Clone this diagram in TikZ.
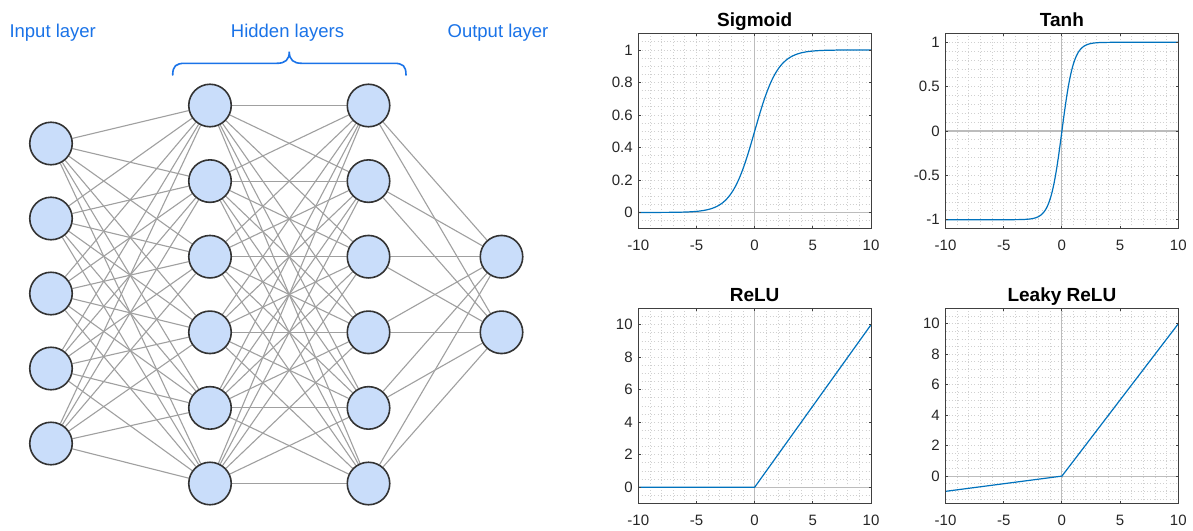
\documentclass[tikz,border=0pt]{standalone}
\usepackage{fontspec}
\setmainfont{Liberation Sans}
\usetikzlibrary{backgrounds}

\definecolor{labelblue}{RGB}{26,115,232}
\definecolor{nodefill}{RGB}{201,221,250}
\definecolor{nodeborder}{RGB}{51,51,51}
\definecolor{edgegray}{RGB}{160,160,160}
\definecolor{ticktext}{RGB}{38,38,38}
\definecolor{framegray}{RGB}{64,64,64}
\definecolor{gridgray}{RGB}{208,208,208}
\definecolor{zerogray}{RGB}{188,188,188}
\definecolor{curveblue}{RGB}{0,114,189}

\begin{document}
\begin{tikzpicture}[x=1pt,y=-1pt,
  neuron/.style={circle,draw=nodeborder,fill=nodefill,line width=1.6pt,minimum size=42.5pt,inner sep=0pt},
  edge/.style={draw=edgegray,line width=1.1pt},
  layerlab/.style={text=labelblue,inner sep=0pt,font=\fontsize{18.5}{22}\selectfont},
  bracestyle/.style={draw=labelblue,line width=1.6pt,line cap=round},
  minorgrid/.style={draw=gridgray,line width=0.8pt,dash pattern=on 1pt off 2.2pt},
  zeroline/.style={draw=zerogray,line width=1.1pt},
  curve/.style={draw=curveblue,line width=1.2pt,line join=round},
  frame/.style={draw=framegray,line width=0.9pt},
  xtick/.style={anchor=center,yshift=-16.5pt,inner sep=0pt,text=ticktext,font=\fontsize{15}{18}\selectfont},
  ytick/.style={anchor=east,xshift=-5.5pt,inner sep=0pt,text=ticktext,font=\fontsize{15}{18}\selectfont},
  ptitle/.style={anchor=base,yshift=7pt,inner sep=0pt,font=\fontsize{19}{22}\selectfont\bfseries}]

\useasboundingbox (0,0) rectangle (1193,530);
\begin{pgfonlayer}{background}
  \fill[white] (0,0) rectangle (1193,530);
\end{pgfonlayer}

% ---------------- network ----------------
\foreach \yy [count=\n] in {143.5,218.5,293.5,368.5,443.5}
  \node[neuron] (in\n) at (51,\yy) {};
\foreach \yy [count=\n] in {105.5,181.1,256.7,332.3,407.9,483.5} {
  \node[neuron] (ha\n) at (210,\yy) {};
  \node[neuron] (hb\n) at (368.5,\yy) {};
}
\node[neuron] (out1) at (501.5,256.7) {};
\node[neuron] (out2) at (501.5,332.3) {};

\begin{pgfonlayer}{background}
  \foreach \a in {1,...,5} \foreach \b in {1,...,6} \draw[edge] (in\a) -- (ha\b);
  \foreach \a in {1,...,6} \foreach \b in {1,...,6} \draw[edge] (ha\a) -- (hb\b);
  \foreach \a in {1,...,6} \foreach \b in {1,2} \draw[edge] (hb\a) -- (out\b);
\end{pgfonlayer}

\node[layerlab,anchor=base west] (lin) at (9.3,37.7) {Input layer};
\node[layerlab,anchor=base] (lhid) at (287.5,37.7) {Hidden layers};
\node[layerlab,anchor=base] (lout) at (498,37.7) {Output layer};

% brace over the two hidden layers
\coordinate (bl) at (172.7,75);
\coordinate (bt) at (289.3,51.7);
\coordinate (br) at (406,75);
\draw[bracestyle] (bl) .. controls (172.7,66) and (176,63.3) .. (185,63.3) -- (277,63.3)
  .. controls (285,63.3) and (289.3,60) .. (bt)
  .. controls (289.3,60) and (293.6,63.3) .. (301.6,63.3) -- (394,63.3)
  .. controls (403,63.3) and (406,66) .. (br);

% ---------------- Sigmoid ----------------
\begin{scope}[shift={(754.65pt,-212.45pt)},x=11.635pt,y=162.5pt]
  \foreach \u in {-9,...,9} \draw[minorgrid] (\u,-0.1) -- (\u,1.1);
  \foreach \k in {-1,...,21} \draw[minorgrid] (-10,{\k*0.05}) -- (10,{\k*0.05});
  \draw[zeroline] (0,-0.1) -- (0,1.1);
  \draw[zeroline] (-10,0) -- (10,0);
  \draw[curve] plot[domain=-10:10,samples=241] (\x,{1/(1+exp(-min(max(\x,-9.5),9.5)))});
  \draw[frame] (-10,-0.1) rectangle (10,1.1);
  \foreach \u in {-10,-5,0,5,10} {
    \draw[frame] (\u,-0.1) -- ++(0pt,2.5pt);
    \draw[frame] (\u,1.1) -- ++(0pt,-2.5pt);
    \node[xtick] at (\u,-0.1) {\u};
  }
  \foreach \v in {0,0.2,0.4,0.6,0.8,1} {
    \draw[frame] (-10,\v) -- ++(2.5pt,0pt);
    \draw[frame] (10,\v) -- ++(-2.5pt,0pt);
    \node[ytick] at (-10,\v) {\v};
  }
  \node[ptitle] (tsig) at (0,1.1) {Sigmoid};
\end{scope}

% ---------------- Tanh ----------------
\begin{scope}[shift={(1061.9pt,-131pt)},x=11.64pt,y=88.7pt]
  \foreach \u in {-9,...,9} \draw[minorgrid] (\u,-1.1) -- (\u,1.1);
  \foreach \k in {-10,...,10} \draw[minorgrid] (-10,{\k*0.1}) -- (10,{\k*0.1});
  \draw[zeroline] (0,-1.1) -- (0,1.1);
  \draw[zeroline] (-10,0) -- (10,0);
  \draw[curve] plot[domain=-10:10,samples=241] (\x,{2/(1+exp(-min(max(2*\x,-9.5),9.5)))-1});
  \draw[frame] (-10,-1.1) rectangle (10,1.1);
  \foreach \u in {-10,-5,0,5,10} {
    \draw[frame] (\u,-1.1) -- ++(0pt,2.5pt);
    \draw[frame] (\u,1.1) -- ++(0pt,-2.5pt);
    \node[xtick] at (\u,-1.1) {\u};
  }
  \foreach \v in {-1,-0.5,0,0.5,1} {
    \draw[frame] (-10,\v) -- ++(2.5pt,0pt);
    \draw[frame] (10,\v) -- ++(-2.5pt,0pt);
    \node[ytick] at (-10,\v) {\v};
  }
  \node[ptitle] (ttanh) at (0,1.1) {Tanh};
\end{scope}

% ---------------- ReLU ----------------
\begin{scope}[shift={(754.65pt,-487.25pt)},x=11.635pt,y=16.25pt]
  \foreach \u in {-9,...,9} \draw[minorgrid] (\u,-1) -- (\u,11);
  \foreach \k in {-1,...,21} \draw[minorgrid] (-10,{\k*0.5}) -- (10,{\k*0.5});
  \draw[zeroline] (0,-1) -- (0,11);
  \draw[zeroline] (-10,0) -- (10,0);
  \draw[curve] (-10,0) -- (0,0) -- (10,10);
  \draw[frame] (-10,-1) rectangle (10,11);
  \foreach \u in {-10,-5,0,5,10} {
    \draw[frame] (\u,-1) -- ++(0pt,2.5pt);
    \draw[frame] (\u,11) -- ++(0pt,-2.5pt);
    \node[xtick] at (\u,-1) {\u};
  }
  \foreach \v in {0,2,4,6,8,10} {
    \draw[frame] (-10,\v) -- ++(2.5pt,0pt);
    \draw[frame] (10,\v) -- ++(-2.5pt,0pt);
    \node[ytick] at (-10,\v) {\v};
  }
  \node[ptitle] (trelu) at (0,11) {ReLU};
\end{scope}

% ---------------- Leaky ReLU ----------------
\begin{scope}[shift={(1061.9pt,-476.1pt)},x=11.64pt,y=15.234pt]
  \foreach \u in {-9,...,9} \draw[minorgrid] (\u,-1.8) -- (\u,11);
  \foreach \k in {-3,...,21} \draw[minorgrid] (-10,{\k*0.5}) -- (10,{\k*0.5});
  \draw[zeroline] (0,-1.8) -- (0,11);
  \draw[zeroline] (-10,0) -- (10,0);
  \draw[curve] (-10,-1) -- (0,0) -- (10,10);
  \draw[frame] (-10,-1.8) rectangle (10,11);
  \foreach \u in {-10,-5,0,5,10} {
    \draw[frame] (\u,-1.8) -- ++(0pt,2.5pt);
    \draw[frame] (\u,11) -- ++(0pt,-2.5pt);
    \node[xtick] at (\u,-1.8) {\u};
  }
  \foreach \v in {0,2,4,6,8,10} {
    \draw[frame] (-10,\v) -- ++(2.5pt,0pt);
    \draw[frame] (10,\v) -- ++(-2.5pt,0pt);
    \node[ytick] at (-10,\v) {\v};
  }
  \node[ptitle] (tleaky) at (0,11) {Leaky ReLU};
\end{scope}
\end{tikzpicture}
\end{document}
